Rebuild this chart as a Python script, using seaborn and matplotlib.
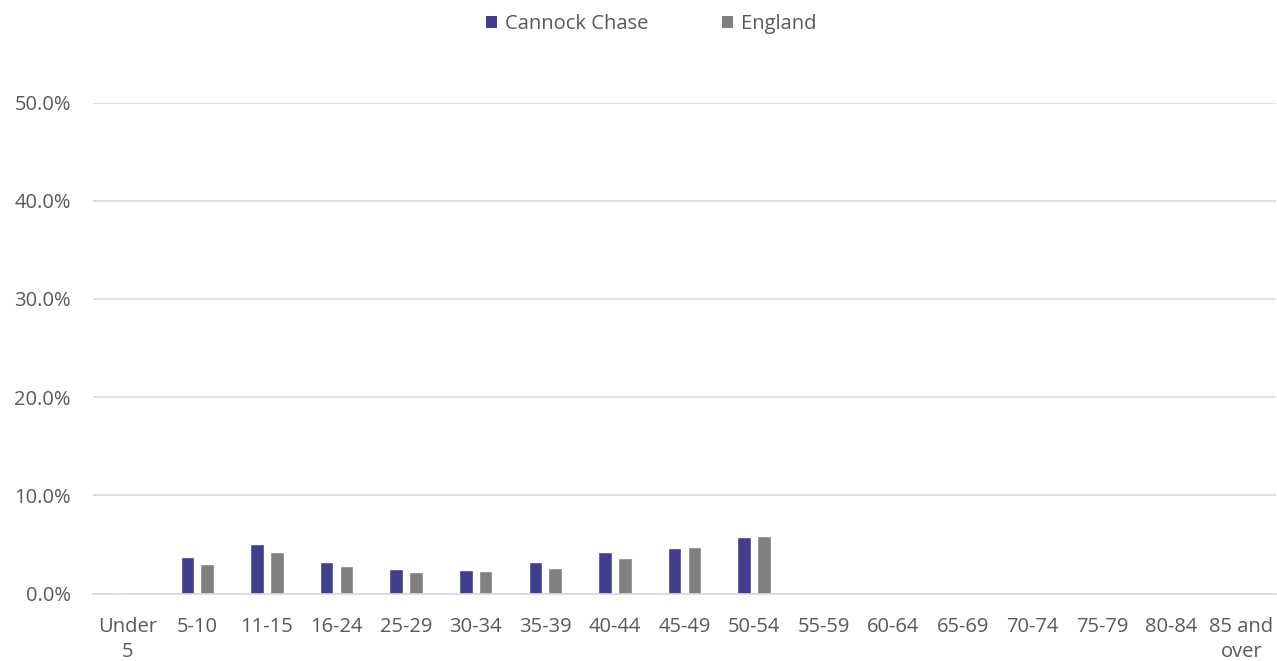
import numpy as np
import pandas as pd
import seaborn as sns
import matplotlib
matplotlib.use("Agg")
import matplotlib.pyplot as plt
from matplotlib.ticker import FuncFormatter
from matplotlib.patches import Patch

categories = ["Under\n5", "5-10", "11-15", "16-24", "25-29", "30-34", "35-39", "40-44",
              "45-49", "50-54", "55-59", "60-64", "65-69", "70-74", "75-79", "80-84", "85 and\nover"]
cannock = [0.1, 3.7, 5.0, 3.2, 2.5, 2.35, 3.2, 4.2, 4.6, 5.75,
           np.nan, np.nan, np.nan, np.nan, np.nan, np.nan, np.nan]
england = [0.0, 3.0, 4.2, 2.8, 2.2, 2.25, 2.6, 3.6, 4.7, 5.85,
           np.nan, np.nan, np.nan, np.nan, np.nan, np.nan, np.nan]
series = ["Cannock Chase", "England"]
colors = ["#413E8D", "#808080"]

df = pd.DataFrame({
    "age": categories * 2,
    "value": cannock + england,
    "area": [series[0]] * len(categories) + [series[1]] * len(categories),
})

sns.set_theme(style="white")
plt.rcParams["font.family"] = ["Open Sans", "DejaVu Sans"]

fig = plt.figure(figsize=(12.77, 6.61), dpi=100)
ax = fig.add_axes([93 / 1277, 1 - 593.5 / 661, (1276 - 93) / 1277, (593.5 - 102.5) / 661])

sns.barplot(data=df, x="age", y="value", hue="area", order=categories,
            hue_order=series, palette=colors, width=0.57, gap=0.31,
            ax=ax, legend=False, saturation=1)

ax.set_ylim(0, 50)
ax.set_xlim(-0.5, len(categories) - 0.5)
ax.set_yticks([0, 10, 20, 30, 40, 50])
ax.yaxis.set_major_formatter(FuncFormatter(lambda v, p: f"{v:.1f}%"))
ax.grid(axis="y", color="#D9D9D9", linewidth=1.2)
ax.set_axisbelow(True)
for s in ["top", "right", "left"]:
    ax.spines[s].set_visible(False)
ax.spines["bottom"].set_color("#D9D9D9")
ax.spines["bottom"].set_linewidth(1.2)
ax.set_xlabel("")
ax.set_ylabel("")
ax.tick_params(axis="both", length=0, colors="#595959", labelsize=14.5)
ax.tick_params(axis="y", pad=16)
ax.tick_params(axis="x", pad=17)
for lab in ax.get_xticklabels():
    lab.set_linespacing(1.35)

handles = [Patch(facecolor=c, edgecolor="none") for c in colors]
leg = fig.legend(handles, series, loc="center", bbox_to_anchor=(651 / 1277, 1 - 24 / 661),
                 ncol=2, frameon=False, fontsize=14.5, handlelength=0.55, handleheight=0.55,
                 handletextpad=0.4, columnspacing=3.65)
for t in leg.get_texts():
    t.set_color("#595959")

fig.savefig("out.png", dpi=100)
